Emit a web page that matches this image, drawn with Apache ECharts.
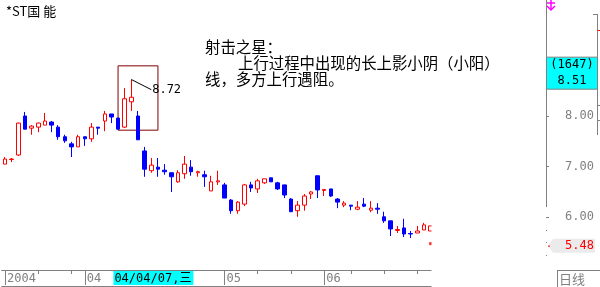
<!DOCTYPE html>
<html><head><meta charset="utf-8">
<script src="https://cdn.jsdelivr.net/npm/echarts@6/dist/echarts.min.js"></script>
<style>html,body{margin:0;padding:0;background:#fff}#c{width:600px;height:287px}</style>
</head><body><div id="c"></div>
<script>
// ---- data ----
const opens  = [7.05,7.14,7.23,8.00,7.76,7.78,7.82,7.88,7.78,7.59,7.45,7.39,7.59,7.55,7.78,7.90,8.04,7.96,7.78,8.28,8.00,7.31,6.92,6.99,6.93,6.88,6.70,6.86,6.99,6.88,6.84,6.52,6.70,6.64,6.34,6.13,6.26,6.64,6.56,6.68,6.78,6.68,6.64,6.36,6.13,6.24,6.46,6.82,6.53,6.56,6.36,6.24,6.24,6.16,6.26,6.14,6.18,6.01,5.93,5.74,5.79,5.68,5.69,5.75,5.73];
const closes = [7.15,7.15,7.86,7.74,7.80,7.86,7.90,7.82,7.59,7.51,7.39,7.59,7.55,7.78,7.76,8.04,7.98,7.74,8.34,8.37,7.53,6.95,7.03,6.95,6.90,6.80,6.88,7.05,6.90,6.90,6.80,6.70,6.72,6.38,6.13,6.30,6.64,6.58,6.72,6.76,6.70,6.56,6.44,6.11,6.24,6.42,6.50,6.54,6.55,6.42,6.30,6.28,6.22,6.20,6.22,6.18,6.16,5.93,5.77,5.76,5.67,5.67,5.73,5.85,5.83];
const lows   = [7.05,7.09,7.21,7.74,7.63,7.68,7.82,7.68,7.53,7.47,7.19,7.39,7.41,7.49,7.63,7.70,7.86,7.74,7.76,8.10,7.53,6.80,6.88,6.80,6.84,6.50,6.68,6.76,6.82,6.80,6.60,6.52,6.64,6.38,6.07,6.07,6.22,6.50,6.48,6.66,6.70,6.54,6.38,6.11,6.01,6.13,6.36,6.38,6.42,6.40,6.18,6.20,6.14,6.14,6.20,6.10,6.07,5.89,5.63,5.69,5.61,5.59,5.69,5.75,5.73];
const highs  = [7.19,7.17,7.87,8.08,7.82,7.87,8.06,7.90,7.82,7.63,7.49,7.63,7.59,7.86,7.78,8.10,8.04,7.96,8.55,8.72,8.10,7.39,7.17,7.17,7.05,6.88,6.93,7.21,7.13,6.92,6.92,6.82,6.92,6.68,6.36,6.32,6.66,6.70,6.76,6.76,6.78,6.70,6.64,6.38,6.32,6.46,6.52,6.82,6.55,6.56,6.38,6.32,6.24,6.32,6.38,6.32,6.28,6.11,5.93,5.83,5.97,5.73,5.83,5.89,5.83];
const days = opens.map((_, i) => String(i + 1));
const monthTickIdx = [0, 12, 33, 48];
const monthTickLabels = ['2004', '04', '05', '06'];
const weekTickIdx = [5, 10, 38, 43, 52, 57, 62];
const priceTicks = [6, 7, 8];
const minorPriceTicks = [5.25,5.5,5.75,6.25,6.5,6.75,7.25,7.5,7.75,8.25,8.5,8.75,9,9.25,9.5,9.75,10];
const lastPrice = 5.48;
const starIdx = 19;
const boxFromIdx = 17, boxToIdx = 23, boxLow = 7.72, boxHigh = 8.99;
const calloutEndIdx = 22, calloutEndPrice = 8.52;
const cursorCount = 1647, cursorPrice = 8.51, cursorDate = '04/04/07,三';
const noteLines = ['射击之星：', '上行过程中出现的长上影小阴（小阳）', '线，多方上行遇阻。'];

// ---- chart ----
const MONO = '"DejaVu Sans Mono", "Noto Sans CJK SC"';
const CJK = '"Noto Sans CJK SC"';
const GRAY = '#808080';
const chart = echarts.init(document.getElementById('c'), null, { renderer: 'canvas' });
const yMin = 4.9595, yMax = 10.290;

chart.setOption({
  animation: false,
  backgroundColor: '#ffffff',
  title: { text: '*ST国 能', left: 1, top: 0, textStyle: { fontSize: 13, fontWeight: 'normal', color: '#000', fontFamily: CJK } },
  grid: { left: 1.675, top: 0, width: 432.25, height: 270, outerBoundsMode: 'none' },
  xAxis: [
    { type: 'category', data: days, boundaryGap: true,
      axisLine: { show: true, lineStyle: { color: GRAY, width: 1 } },
      axisTick: { show: true, alignWithLabel: true, length: 4, lineStyle: { color: GRAY },
        interval: (i) => weekTickIdx.includes(i) || monthTickIdx.includes(i) },
      axisLabel: { show: true, interval: (i) => monthTickIdx.includes(i),
        formatter: (v, i) => monthTickLabels[monthTickIdx.indexOf(i)] || '',
        align: 'left', padding: [0, 0, 0, 2], margin: 3, color: GRAY, fontFamily: MONO, fontSize: 12 },
      splitLine: { show: false } },
    { type: 'category', data: days, position: 'bottom', boundaryGap: true,
      axisLine: { show: false },
      axisTick: { show: true, alignWithLabel: true, length: 15, lineStyle: { color: GRAY },
        interval: (i) => monthTickIdx.includes(i) },
      axisLabel: { show: false }, splitLine: { show: false } },
    { type: 'category', data: days, position: 'bottom', offset: 16, boundaryGap: true,
      axisLine: { show: true, lineStyle: { color: GRAY } },
      axisTick: { show: false }, axisLabel: { show: false }, splitLine: { show: false } }
  ],
  yAxis: [
    { type: 'value', position: 'right', offset: 112.1, min: yMin, max: yMax,
      splitLine: { show: false }, axisLine: { show: false },
      axisTick: { show: true, customValues: priceTicks, length: 3, lineStyle: { color: GRAY } },
      axisLabel: { show: true, customValues: priceTicks, formatter: (v) => Number(v).toFixed(2),
        color: GRAY, fontFamily: MONO, fontSize: 12, margin: 19 } },
    { type: 'value', position: 'right', offset: 112.1, min: yMin, max: yMax,
      splitLine: { show: false }, axisLine: { show: false },
      axisTick: { show: true, customValues: minorPriceTicks, length: 1, lineStyle: { color: GRAY } },
      axisLabel: { show: false } }
  ],
  series: [
    { type: 'candlestick', xAxisIndex: 0, yAxisIndex: 0, barWidth: 4,
      data: opens.map((o, i) => [o, closes[i], lows[i], highs[i]]),
      itemStyle: { color: '#ffffff', color0: '#0000ff', borderColor: '#ff0000', borderColor0: '#0000ff', borderWidth: 1 },
      markArea: { silent: true,
        itemStyle: { color: 'rgba(0,0,0,0)', borderColor: '#800000', borderWidth: 1 },
        data: [[{ xAxis: days[boxFromIdx], yAxis: boxHigh }, { xAxis: days[boxToIdx], yAxis: boxLow }]] },
      markLine: { silent: true, symbol: ['none', 'none'],
        lineStyle: { color: '#000', width: 1, type: 'solid' },
        label: { show: true, position: 'end', formatter: highs[starIdx].toFixed(2), color: '#000', fontFamily: MONO, fontSize: 12, distance: 1 },
        data: [[{ coord: [days[starIdx], highs[starIdx]] }, { coord: [days[calloutEndIdx], calloutEndPrice] }]] }
    },
    { type: 'scatter', xAxisIndex: 0, yAxisIndex: 0, symbol: 'rect', symbolSize: 3, z: 3,
      data: [[days[days.length - 1], lastPrice]], itemStyle: { color: '#ff0000' } }
  ]
});

const yLast = chart.convertToPixel({ yAxisIndex: 0 }, lastPrice);
const yCursor = chart.convertToPixel({ yAxisIndex: 0 }, cursorPrice);
const xCursor = chart.convertToPixel({ xAxisIndex: 0 }, days[16]);

chart.setOption({
  graphic: [
    // clip right of plot
    { type: 'rect', shape: { x: 431.5, y: 0, width: 113.5, height: 287 }, style: { fill: '#fff' }, z: 100, silent: true },
    // note text
    { type: 'text', left: 205, top: 39, z: 110, style: { text: noteLines[0], font: '15.4px ' + CJK, fill: '#000' } },
    { type: 'text', left: 238, top: 55, z: 110, style: { text: noteLines[1], font: '15.4px ' + CJK, fill: '#000' } },
    { type: 'text', left: 205, top: 71, z: 110, style: { text: noteLines[2], font: '15.4px ' + CJK, fill: '#000' } },
    // right axis line
    { type: 'line', shape: { x1: 546.5, y1: 0, x2: 546.5, y2: 207 }, style: { stroke: GRAY, lineWidth: 1 }, z: 110 },
    // far right line
    { type: 'line', shape: { x1: 597.5, y1: 14, x2: 597.5, y2: 135 }, style: { stroke: GRAY, lineWidth: 1 }, z: 110 },
    { type: 'line', shape: { x1: 593, y1: 14.5, x2: 597.5, y2: 14.5 }, style: { stroke: GRAY, lineWidth: 1 }, z: 110 },
    { type: 'line', shape: { x1: 597.5, y1: 30.5, x2: 600, y2: 30.5 }, style: { stroke: '#ff0000', lineWidth: 1 }, z: 110 },
    { type: 'line', shape: { x1: 597.5, y1: 105.5, x2: 600, y2: 105.5 }, style: { stroke: GRAY, lineWidth: 1 }, z: 110 },
    { type: 'line', shape: { x1: 597.5, y1: 120.5, x2: 600, y2: 120.5 }, style: { stroke: GRAY, lineWidth: 1 }, z: 110 },
    // magenta marker
    { type: 'polyline', shape: { points: [[551, 0], [551, 10]] }, style: { stroke: '#ff00ff', lineWidth: 1.5, fill: null }, z: 110 },
    { type: 'polyline', shape: { points: [[547, 3], [555, 3]] }, style: { stroke: '#ff00ff', lineWidth: 1.5, fill: null }, z: 110 },
    { type: 'polyline', shape: { points: [[547, 6], [551, 10], [555, 6]] }, style: { stroke: '#ff00ff', lineWidth: 1.5, fill: null }, z: 110 },
    // cursor price box
    { type: 'rect', shape: { x: 546.5, y: yCursor - 33, width: 51, height: 32 }, style: { fill: '#00ffff', stroke: GRAY, lineWidth: 1 }, z: 111 },
    { type: 'text', z: 112, style: { x: 572, y: yCursor - 25, text: '(' + cursorCount + ')', font: '12px ' + MONO, fill: '#000', align: 'center', verticalAlign: 'middle' } },
    { type: 'text', z: 112, style: { x: 572, y: yCursor - 9, text: cursorPrice.toFixed(2), font: '12px ' + MONO, fill: '#000', align: 'center', verticalAlign: 'middle' } },
    // last price label
    { type: 'polygon', shape: { points: [[548, yLast + 2], [553, yLast - 5], [595, yLast - 5], [595, yLast + 9], [553, yLast + 9]] }, style: { fill: '#ebebeb' }, z: 110 },
    { type: 'line', shape: { x1: 548, y1: yLast + 2.5, x2: 550, y2: yLast + 2.5 }, style: { stroke: '#ff0000', lineWidth: 1 }, z: 111 },
    { type: 'text', z: 112, style: { x: 594, y: yLast + 2.5, text: lastPrice.toFixed(2), font: '12px ' + MONO, fill: '#ff0000', align: 'right', verticalAlign: 'middle' } },
    // cursor date box
    { type: 'rect', shape: { x: xCursor + 2, y: 271, width: 80, height: 14 }, style: { fill: '#00ffff' }, z: 111 },
    { type: 'text', z: 112, style: { x: xCursor + 3, y: 278.5, text: cursorDate, font: '12px ' + MONO, fill: '#000', align: 'left', verticalAlign: 'middle' } },
    // 日线 box
    { type: 'line', shape: { x1: 557, y1: 270.5, x2: 600, y2: 270.5 }, style: { stroke: GRAY, lineWidth: 1 }, z: 110 },
    { type: 'line', shape: { x1: 557.5, y1: 270, x2: 557.5, y2: 287 }, style: { stroke: GRAY, lineWidth: 1 }, z: 110 },
    { type: 'text', z: 112, style: { x: 559, y: 279, text: '日线', font: '13px ' + CJK, fill: GRAY, align: 'left', verticalAlign: 'middle' } }
  ]
});
</script>
</body></html>
